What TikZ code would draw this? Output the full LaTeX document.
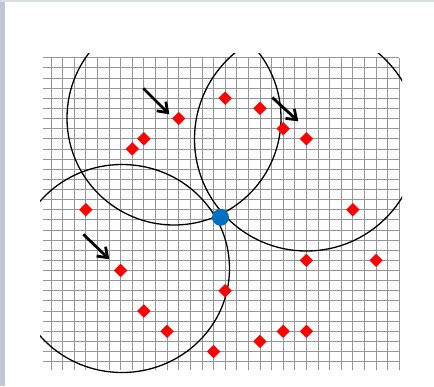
\documentclass[tikz,border=0pt]{standalone}
\usetikzlibrary{shapes.geometric,arrows.meta}
\definecolor{sidebar}{RGB}{192,198,214}
\definecolor{gridgray}{RGB}{150,150,150}
\definecolor{ptblue}{RGB}{0,112,192}
\tikzset{
  gridline/.style={draw=gridgray,line width=0.8pt},
  ring/.style={draw=black,line width=1.3pt},
  sample/.style={shape=diamond,fill=red,draw=none,minimum width=13.5pt,minimum height=13.5pt,inner sep=0pt},
  center/.style={shape=circle,fill=ptblue,draw=none,minimum size=17pt,inner sep=0pt},
  bigarrow/.style={draw=black,line width=2.8pt,-{Straight Barb[length=9pt,width=13pt]}}
}
\begin{document}
\begin{tikzpicture}[x=1pt,y=-1pt]
\useasboundingbox (0,0) rectangle (434,386);
\fill[white] (0,0) rectangle (434,386);
\fill[sidebar] (0,0) rectangle (5,386);
\fill[sidebar!60] (0,0) rectangle (434,1.5);
% grid
\foreach \j in {0,...,30}
  \draw[gridline] (43,{57.7+10.133*\j}) -- (399.3,{57.7+10.133*\j});
\foreach \i in {0,...,30}
  \draw[gridline] ({51+11.61*\i},57.7) -- ({51+11.61*\i},370);
% circles
\begin{scope}
  \clip (40,53) rectangle (402,386);
  \draw[ring] (174,118) circle[radius=107pt];
  \draw[ring] (306.5,139) circle[radius=112pt];
  \draw[ring] (122,268.5) ellipse[x radius=107.5pt,y radius=104pt];
\end{scope}
% samples
\foreach \i/\j/\n in {11/6/d1,15/4/d2,18/5/d3,20/7/d4,22/8/d5,8/8/d6,7/9/d7,3/15/d8,26/15/d9,22/20/d10,28/20/d11,6/21/d12,15/23/d13,8/25/d14,10/27/d15,14/29/d16,18/28/d17,20/27/d18,22/27/d19}
  \node[sample] (\n) at ({51+11.61*\i},{57.7+10.133*\j}) {};
% centre point
\node[center] (p) at (220.5,217.3) {};
% arrows
\coordinate (a1s) at (143.3,88.3);
\coordinate (a1e) at (169.3,114.3);
\coordinate (a2s) at (272.3,97.5);
\coordinate (a2e) at (298.3,121.3);
\coordinate (a3s) at (83.3,234.3);
\coordinate (a3e) at (109.3,259.3);
\draw[bigarrow] (a1s) -- (a1e);
\draw[bigarrow] (a2s) -- (a2e);
\draw[bigarrow] (a3s) -- (a3e);
\end{tikzpicture}
\end{document}
